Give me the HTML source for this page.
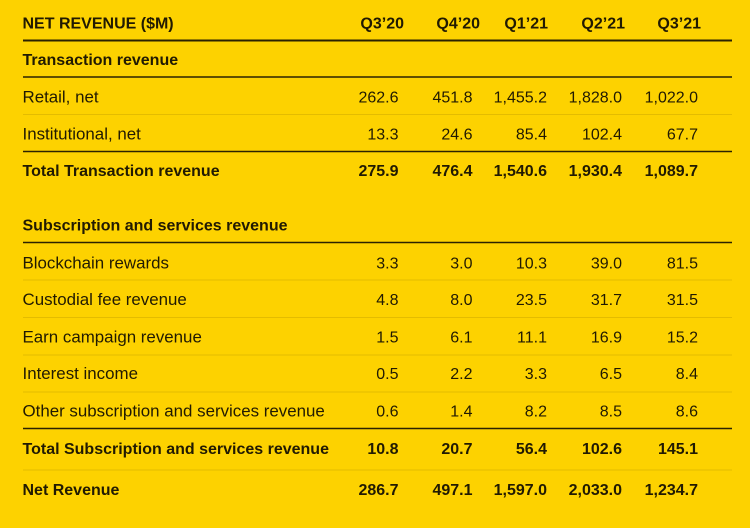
<!DOCTYPE html>
<html>
<head>
<meta charset="utf-8">
<style>
  html,body{margin:0;padding:0;background:#FDD200;}
  svg{display:block;}
  text{font-family:"Liberation Sans",Arial,sans-serif;fill:#211a02;}
  .b{font-weight:bold;font-size:16px;}
  .l{font-size:16.9px;}
  .n{font-size:16px;}
</style>
</head>
<body>
<svg width="750" height="528" viewBox="0 0 750 528" xmlns="http://www.w3.org/2000/svg">
  <rect width="750" height="528" fill="#FDD200"/>

  <!-- rules -->
  <g stroke="#2b2200">
    <line x1="23" x2="732" y1="40.5" y2="40.5" stroke-width="2"/>
    <line x1="23" x2="732" y1="77" y2="77" stroke-width="1.5"/>
    <line x1="23" x2="732" y1="151.5" y2="151.5" stroke-width="1.5"/>
    <line x1="23" x2="732" y1="242.5" y2="242.5" stroke-width="1.5"/>
    <line x1="23" x2="732" y1="428.5" y2="428.5" stroke-width="1.5"/>
  </g>
  <g stroke="#E4BC00" stroke-width="1">
    <line x1="23" x2="732" y1="114.5" y2="114.5"/>
    <line x1="23" x2="732" y1="280" y2="280"/>
    <line x1="23" x2="732" y1="317.5" y2="317.5"/>
    <line x1="23" x2="732" y1="355" y2="355"/>
    <line x1="23" x2="732" y1="392" y2="392"/>
    <line x1="23" x2="732" y1="470" y2="470"/>
  </g>

  <!-- header -->
  <text class="b" x="22.5" y="28.3">NET REVENUE ($M)</text>
  <g class="b" text-anchor="end">
    <text x="404" y="28.3">Q3’20</text>
    <text x="480" y="28.3">Q4’20</text>
    <text x="548" y="28.3">Q1’21</text>
    <text x="625" y="28.3">Q2’21</text>
    <text x="701" y="28.3">Q3’21</text>
  </g>

  <!-- labels -->
  <text class="b" x="22.5" y="65">Transaction revenue</text>
  <text class="l" x="22.5" y="102.3">Retail, net</text>
  <text class="l" x="22.5" y="139.3">Institutional, net</text>
  <text class="b" x="22.5" y="176">Total Transaction revenue</text>
  <text class="b" x="22.5" y="230.7">Subscription and services revenue</text>
  <text class="l" x="22.5" y="268.3">Blockchain rewards</text>
  <text class="l" x="22.5" y="305">Custodial fee revenue</text>
  <text class="l" x="22.5" y="342.3">Earn campaign revenue</text>
  <text class="l" x="22.5" y="379">Interest income</text>
  <text class="l" x="22.5" y="416.7">Other subscription and services revenue</text>
  <text class="b" x="22.5" y="454">Total Subscription and services revenue</text>
  <text class="b" x="22.5" y="495">Net Revenue</text>

  <!-- regular numbers -->
  <g class="n" text-anchor="end">
    <text x="398.5" y="102.3">262.6</text>
    <text x="472.5" y="102.3">451.8</text>
    <text x="547" y="102.3">1,455.2</text>
    <text x="622" y="102.3">1,828.0</text>
    <text x="698" y="102.3">1,022.0</text>

    <text x="398.5" y="139.3">13.3</text>
    <text x="472.5" y="139.3">24.6</text>
    <text x="547" y="139.3">85.4</text>
    <text x="622" y="139.3">102.4</text>
    <text x="698" y="139.3">67.7</text>

    <text x="398.5" y="268.3">3.3</text>
    <text x="472.5" y="268.3">3.0</text>
    <text x="547" y="268.3">10.3</text>
    <text x="622" y="268.3">39.0</text>
    <text x="698" y="268.3">81.5</text>

    <text x="398.5" y="305">4.8</text>
    <text x="472.5" y="305">8.0</text>
    <text x="547" y="305">23.5</text>
    <text x="622" y="305">31.7</text>
    <text x="698" y="305">31.5</text>

    <text x="398.5" y="342.3">1.5</text>
    <text x="472.5" y="342.3">6.1</text>
    <text x="547" y="342.3">11.1</text>
    <text x="622" y="342.3">16.9</text>
    <text x="698" y="342.3">15.2</text>

    <text x="398.5" y="379">0.5</text>
    <text x="472.5" y="379">2.2</text>
    <text x="547" y="379">3.3</text>
    <text x="622" y="379">6.5</text>
    <text x="698" y="379">8.4</text>

    <text x="398.5" y="416.7">0.6</text>
    <text x="472.5" y="416.7">1.4</text>
    <text x="547" y="416.7">8.2</text>
    <text x="622" y="416.7">8.5</text>
    <text x="698" y="416.7">8.6</text>
  </g>

  <!-- bold numbers -->
  <g class="b" text-anchor="end">
    <text x="398.5" y="176">275.9</text>
    <text x="472.5" y="176">476.4</text>
    <text x="547" y="176">1,540.6</text>
    <text x="622" y="176">1,930.4</text>
    <text x="698" y="176">1,089.7</text>

    <text x="398.5" y="454">10.8</text>
    <text x="472.5" y="454">20.7</text>
    <text x="547" y="454">56.4</text>
    <text x="622" y="454">102.6</text>
    <text x="698" y="454">145.1</text>

    <text x="398.5" y="495">286.7</text>
    <text x="472.5" y="495">497.1</text>
    <text x="547" y="495">1,597.0</text>
    <text x="622" y="495">2,033.0</text>
    <text x="698" y="495">1,234.7</text>
  </g>
</svg>
</body>
</html>
